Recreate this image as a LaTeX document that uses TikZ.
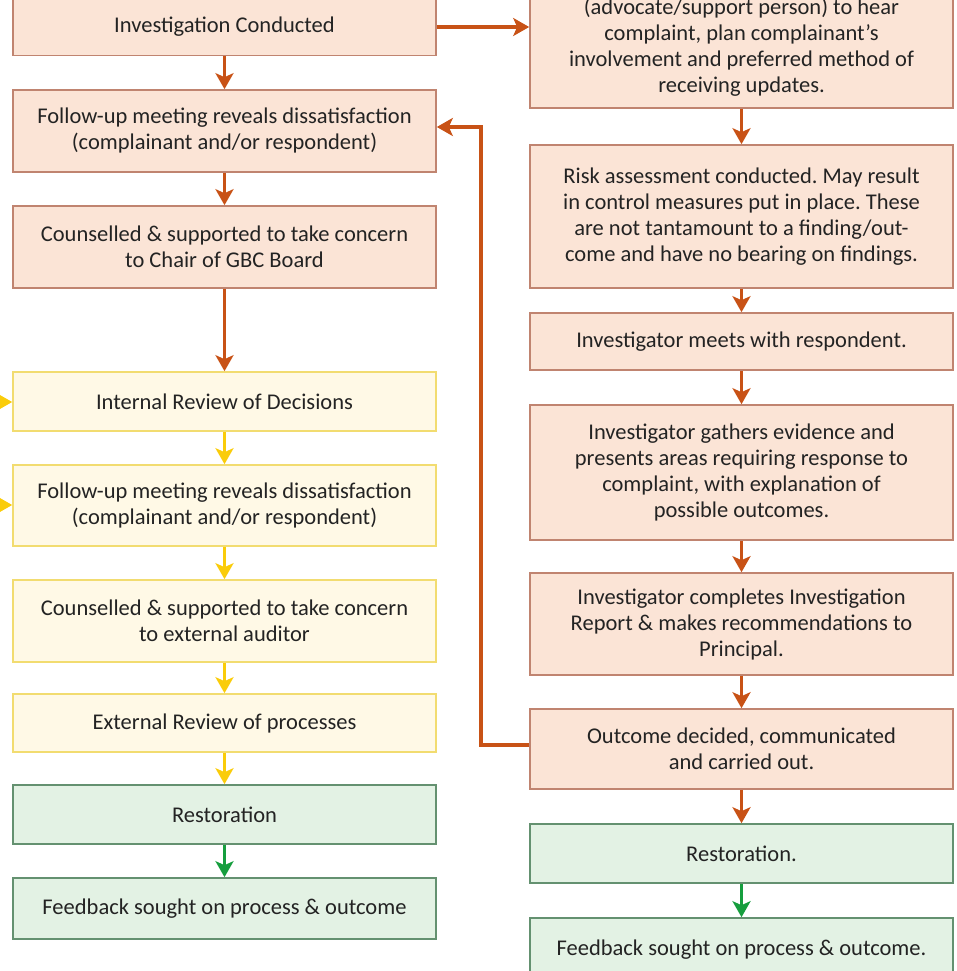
\documentclass[tikz,border=0pt]{standalone}
\usepackage{fontspec}
\setmainfont{Carlito}
\frenchspacing
\usetikzlibrary{arrows.meta,positioning}
\definecolor{orfill}{RGB}{251,228,214}
\definecolor{ordraw}{RGB}{192,132,112}
\definecolor{orline}{RGB}{200,82,22}
\definecolor{ylfill}{RGB}{255,249,230}
\definecolor{yldraw}{RGB}{242,220,112}
\definecolor{ylline}{RGB}{250,204,10}
\definecolor{grfill}{RGB}{227,242,228}
\definecolor{grdraw}{RGB}{100,145,112}
\definecolor{grline}{RGB}{22,158,62}
\definecolor{txt}{RGB}{35,35,35}
\tikzset{
  box/.style   = {draw, line width=1.6pt, minimum width=423pt, align=center,
                  inner sep=0pt, text=txt, font=\fontsize{22.5}{26}\selectfont},
  orbox/.style = {box, draw=ordraw, fill=orfill},
  ylbox/.style = {box, draw=yldraw, fill=ylfill},
  grbox/.style = {box, draw=grdraw, fill=grfill},
  arr/.style   = {-{Stealth[length=16pt,width=18pt,inset=4pt]}, line width=3.6pt},
  orarr/.style = {arr, orline},
  ylarr/.style = {arr, ylline},
  grarr/.style = {arr, grline},
}

\begin{document}
\begin{tikzpicture}[x=1pt,y=-1pt]
  \useasboundingbox (0,0) rectangle (956,971);
  \clip (0,0) rectangle (956,971);
  % left column
  \node[orbox, minimum height=57pt] (L1) at (224.5,27) {Investigation Conducted};
  \node[orbox, minimum height=82pt] (L2) at (224.5,131)
      {Follow-up meeting reveals dissatisfaction\\(complainant and/or respondent)};
  \node[orbox, minimum height=82pt] (L3) at (224.5,247)
      {Counselled \& supported to take concern\\to Chair of GBC Board};
  \node[ylbox, minimum height=59pt] (L4) at (224.5,401.5) {Internal Review of Decisions};
  \node[ylbox, minimum height=81pt] (L5) at (224.5,505.5)
      {Follow-up meeting reveals dissatisfaction\\(complainant and/or respondent)};
  \node[ylbox, minimum height=82pt] (L6) at (224.5,621)
      {Counselled \& supported to take concern\\to external auditor};
  \node[ylbox, minimum height=58pt] (L7) at (224.5,723) {External Review of processes};
  \node[grbox, minimum height=59pt] (L8) at (224.5,814.5) {Restoration};
  \node[grbox, minimum height=61pt] (L9) at (224.5,908.5) {Feedback sought on process \& outcome};
  % right column
  \node[orbox, minimum height=121pt] (R1) at (741.5,47.5)
      {(advocate/support person) to hear\\complaint, plan complainant's\\
       involvement and preferred method of\\receiving updates.};
  \node[orbox, minimum height=143pt] (R2) at (741.5,216.5)
      {Risk assessment conducted. May result\\in control measures put in place. These\\
       are not tantamount to a finding/out-\\come and have no bearing on findings.};
  \node[orbox, minimum height=57pt] (R3) at (741.5,341.5) {Investigator meets with respondent.};
  \node[orbox, minimum height=135pt] (R4) at (741.5,472.5)
      {Investigator gathers evidence and\\presents areas requiring response to\\
       complaint, with explanation of\\possible outcomes.};
  \node[orbox, minimum height=102pt] (R5) at (741.5,624)
      {Investigator completes Investigation\\Report \& makes recommendations to\\Principal.};
  \node[orbox, minimum height=80pt] (R6) at (741.5,749)
      {Outcome decided, communicated\\and carried out.};
  \node[grbox, minimum height=59pt] (R7) at (741.5,853.5) {Restoration.};
  \node[grbox, minimum height=64pt] (R8) at (741.5,950) {Feedback sought on process \& outcome.};
  % incoming from the left
  \coordinate (inA) at (-30,402);
  \coordinate (inB) at (-30,505);
  % connectors
  \draw[orarr] (L1) -- (L2);
  \draw[orarr] (L2) -- (L3);
  \draw[orarr] (L3) -- (L4);
  \draw[ylarr] (L4) -- (L5);
  \draw[ylarr] (L5) -- (L6);
  \draw[ylarr] (L6) -- (L7);
  \draw[ylarr] (L7) -- (L8);
  \draw[grarr] (L8) -- (L9);
  \draw[ylarr] (inA) -- (L4.west |- inA);
  \draw[ylarr] (inB) -- (L5.west |- inB);
  \draw[orarr] (L1.east) -- (L1.east -| R1.west);
  \draw[orarr] (R1) -- (R2);
  \draw[orarr] (R2) -- (R3);
  \draw[orarr] (R3) -- (R4);
  \draw[orarr] (R4) -- (R5);
  \draw[orarr] (R5) -- (R6);
  \draw[orarr] (R6) -- (R7);
  \draw[grarr] (R7) -- (R8);
  \draw[orarr] ([yshift=4pt]R6.west) -- ++(-48,0) |- ([yshift=4pt]L2.east);
\end{tikzpicture}
\end{document}
